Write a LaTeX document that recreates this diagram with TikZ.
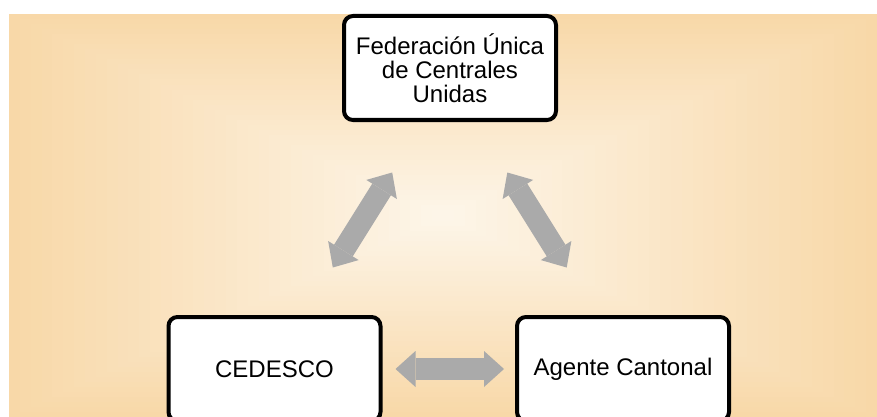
\documentclass[tikz,border=0pt]{standalone}
\usepackage{fontspec}
\setmainfont{Liberation Sans}
\usetikzlibrary{arrows.meta}

\definecolor{bgedge}{RGB}{248,216,168}
\definecolor{bglight}{RGB}{253,246,234}
\definecolor{arrowgray}{RGB}{170,170,170}

\begin{document}
\begin{tikzpicture}[x=1pt, y=-1pt]
	\tikzstyle{box} = [draw, line width=4pt, rounded corners=9pt, fill=white, minimum width=212pt, minimum height=104pt, inner sep=0pt, align=center, font=\fontsize{24}{24}\selectfont]
	\tikzstyle{bigarrow} = [draw=arrowgray, line width=22pt, {Triangle[width=36pt, length=20pt, line width=0pt]}-{Triangle[width=36pt, length=20pt, line width=0pt]}]
	\useasboundingbox (0,0) rectangle (877,417);
	\clip (0,0) rectangle (877,417);
	% background, lighter towards the middle
	\foreach \i [evaluate=\i as \s using 1-\i/40, evaluate=\i as \p using 100-2.5*\i] in {0,...,39}
		\fill[bgedge!\p!bglight] (443-434*\s, 215.5-201.5*\s) rectangle (443+434*\s, 215.5+201.5*\s);
	\node[box] (Federacion) at (450, 68) {Federación Única\\de Centrales\\Unidas};
	\node[box] (Cedesco) at (274.5, 369) {CEDESCO};
	\node[box] (Agente) at (623, 369) {Agente Cantonal};
	\coordinate (LeftLow) at (332.8, 267.5);
	\coordinate (LeftHigh) at (392.2, 172.5);
	\coordinate (RightHigh) at (507.3, 172.5);
	\coordinate (RightLow) at (566.7, 267.5);
	\draw [bigarrow] (LeftLow)--(LeftHigh);
	\draw [bigarrow] (RightHigh)--(RightLow);
	\draw [bigarrow, shorten <=13pt, shorten >=11pt] (Cedesco)--(Agente);
\end{tikzpicture}
\end{document}
